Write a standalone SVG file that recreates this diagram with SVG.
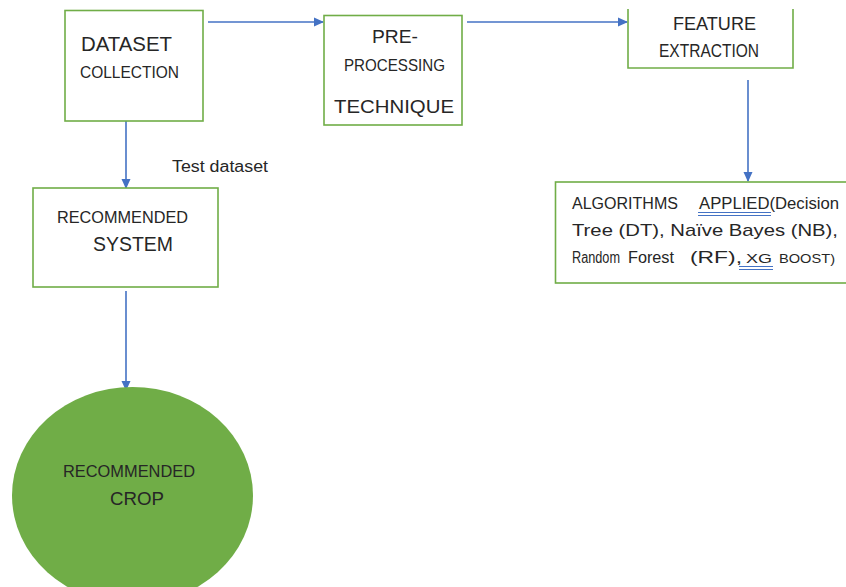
<svg xmlns="http://www.w3.org/2000/svg" width="846" height="587" viewBox="0 0 846 587">
<style>
.box{fill:#ffffff;stroke:#70ad47;stroke-width:1.6}
.t{font-family:"Liberation Sans","Open Sans",sans-serif;fill:#262626}
.c{stroke:#4472c4;stroke-width:1.6;fill:none}
.u{stroke:#4472c4;stroke-width:1;fill:none}
</style>
<defs>
<marker id="ah" markerWidth="10" markerHeight="10" refX="9" refY="5" orient="auto" markerUnits="userSpaceOnUse">
<path d="M0,0.5 L10,5 L0,9.5 z" fill="#4472c4"/>
</marker>
</defs>
<rect width="846" height="587" fill="#ffffff"/>
<g id="connectors">
<line class="c" x1="208" y1="22" x2="323" y2="22" marker-end="url(#ah)"/>
<line class="c" x1="467" y1="22" x2="627" y2="22" marker-end="url(#ah)"/>
<line class="c" x1="748" y1="80" x2="748" y2="181" marker-end="url(#ah)"/>
<line class="c" x1="126" y1="121" x2="126" y2="188" marker-end="url(#ah)"/>
<line class="c" x1="126" y1="291" x2="126" y2="390" marker-end="url(#ah)"/>
<text class="t" x="172" y="172" font-size="16" textLength="96" lengthAdjust="spacingAndGlyphs">Test dataset</text>
</g>
<g id="dataset">
<rect class="box" x="65" y="10.5" width="138" height="110.5"/>
<text class="t" x="81" y="51" font-size="20" textLength="91" lengthAdjust="spacingAndGlyphs">DATASET</text>
<text class="t" x="80" y="78" font-size="17" textLength="99" lengthAdjust="spacingAndGlyphs">COLLECTION</text>
</g>
<g id="preprocessing">
<rect class="box" x="324" y="15.5" width="138" height="109.5"/>
<text class="t" x="372" y="43" font-size="19" textLength="46" lengthAdjust="spacingAndGlyphs">PRE-</text>
<text class="t" x="344" y="71" font-size="17" textLength="101" lengthAdjust="spacingAndGlyphs">PROCESSING</text>
<text class="t" x="334" y="113" font-size="19" textLength="120" lengthAdjust="spacingAndGlyphs">TECHNIQUE</text>
</g>
<g id="feature">
<path class="box" d="M628,9 V68 H793 V9"/>
<text class="t" x="673" y="30" font-size="19" textLength="83" lengthAdjust="spacingAndGlyphs" fill="#3a3a3a">FEATURE</text>
<text class="t" x="659" y="57" font-size="18" textLength="100" lengthAdjust="spacingAndGlyphs" fill="#3a3a3a">EXTRACTION</text>
</g>
<g id="algorithms">
<rect class="box" x="555.5" y="182" width="300" height="101"/>
<text class="t" x="572" y="209" font-size="16" textLength="106" lengthAdjust="spacingAndGlyphs">ALGORITHMS</text>
<text class="t" x="699" y="209" font-size="16" textLength="140" lengthAdjust="spacingAndGlyphs">APPLIED(Decision</text>
<text class="t" x="572" y="236" font-size="17" textLength="266" lengthAdjust="spacingAndGlyphs">Tree (DT), Naïve Bayes (NB),</text>
<text class="t" x="572" y="263" font-size="16" textLength="48" lengthAdjust="spacingAndGlyphs" fill="#3a3a3a">Random</text>
<text class="t" x="628" y="263" font-size="16" textLength="46" lengthAdjust="spacingAndGlyphs" fill="#3a3a3a">Forest</text>
<text class="t" x="690" y="263" font-size="16" textLength="52" lengthAdjust="spacingAndGlyphs" fill="#3a3a3a">(RF),</text>
<text class="t" x="746" y="263" font-size="13" textLength="26" lengthAdjust="spacingAndGlyphs">XG</text>
<text class="t" x="779" y="263" font-size="13" textLength="56" lengthAdjust="spacingAndGlyphs">BOOST)</text>
<path class="u" d="M698,212.5 H771 M698,215.5 H771 M739,266.5 H773 M739,269.5 H773"/>
</g>
<g id="recsystem">
<rect class="box" x="33" y="188" width="185" height="99"/>
<text class="t" x="57" y="223" font-size="17" textLength="131" lengthAdjust="spacingAndGlyphs">RECOMMENDED</text>
<text class="t" x="93" y="251" font-size="20" textLength="80" lengthAdjust="spacingAndGlyphs">SYSTEM</text>
</g>
<g id="reccrop">
<ellipse cx="132.5" cy="495.5" rx="120.5" ry="108.5" fill="#70ad47"/>
<text class="t" x="63" y="477" font-size="17" textLength="132" lengthAdjust="spacingAndGlyphs" fill="#1a1a1a">RECOMMENDED</text>
<text class="t" x="110" y="505" font-size="19" textLength="54" lengthAdjust="spacingAndGlyphs" fill="#1a1a1a">CROP</text>
</g>
</svg>
